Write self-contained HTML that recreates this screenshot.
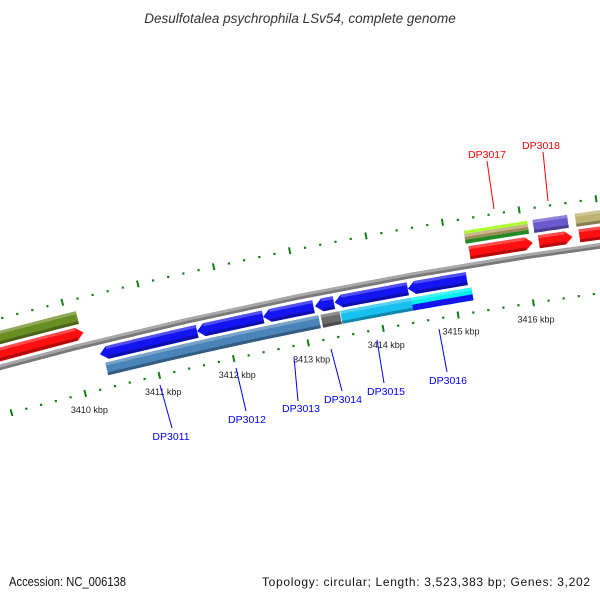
<!DOCTYPE html>
<html><head><meta charset="utf-8">
<style>
html,body{margin:0;padding:0;background:#fff;}
svg{display:block;font-family:"Liberation Sans",sans-serif;}
</style></head>
<body>
<svg id="map" width="600" height="600" viewBox="0 0 600 600" xmlns="http://www.w3.org/2000/svg">
<rect width="600" height="600" fill="#fff"/>
<text x="300" y="23" text-anchor="middle" font-size="13.5" font-style="italic" fill="#333">Desulfotalea psychrophila LSv54, complete genome</text>
<g id="ticks"></g>
<g id="backbone"></g>
<g id="genes"></g>
<g id="labels"></g>
<text x="9" y="586" font-size="12.5" fill="#111" textLength="117" lengthAdjust="spacingAndGlyphs">Accession: NC_006138</text>
<text x="262" y="586" font-size="12" fill="#111" textLength="328" lengthAdjust="spacing">Topology: circular; Length: 3,523,383 bp; Genes: 3,202</text>
</svg>
<script>
// ---- data (kbp) ----
const fwdRow1Starts = [3408.0, 3415.28, 3416.19, 3416.72];
const fwdRow1Ends   = [3410.17, 3416.11, 3416.63, 3417.6];
const fwdRow1Colors = ['#ff1010', '#ff1010', '#ff1010', '#ff1010'];
const fwdRow2Starts = [3408.0, 3416.15, 3416.7];
const fwdRow2Ends   = [3410.14, 3416.6, 3417.6];
const fwdRow2Colors = ['#6b8e23', '#6a5acd', '#bdb472'];
const revRow1Starts = [3410.31, 3411.61, 3412.49, 3413.18, 3413.44, 3414.41];
const revRow1Ends   = [3411.61, 3412.49, 3413.16, 3413.43, 3414.41, 3415.19];
const revRow2Starts = [3410.35, 3413.23, 3413.49, 3414.43];
const revRow2Ends   = [3413.2, 3413.48, 3414.43, 3415.23];
const revRow2Colors = ['#4a84b8', '#6a6a6a', '#18c0f0', '#00f0f0'];
const stackStart = 3415.25, stackEnd = 3416.08;
const tickKbp = [3410,3411,3412,3413,3414,3415,3416];
const tickLabels = ['3410 kbp','3411 kbp','3412 kbp','3413 kbp','3414 kbp','3415 kbp','3416 kbp'];
const geneNames = ['DP3011','DP3012','DP3013','DP3014','DP3015','DP3016','DP3017','DP3018'];
const geneLabelColors = ['#0000ff','#0000ff','#0000ff','#0000ff','#0000ff','#0000ff','#ff0000','#ff0000'];

// ---- geometry ----
const NS='http://www.w3.org/2000/svg';
const CX=1270, CY=5099.6, R0=4900, PHI0=-14.13, DEG_PER_KBP=0.9;
function ang(k){return (PHI0+(k-3410)*DEG_PER_KBP)*Math.PI/180;}
function pt(k,r){const a=ang(k);return [CX+r*Math.sin(a), CY-r*Math.cos(a)];}
function mk(tag,attrs,parent){const e=document.createElementNS(NS,tag);for(const k in attrs)e.setAttribute(k,attrs[k]);parent.appendChild(e);return e;}
function ps(arr){return arr.map(p=>p[0].toFixed(1)+','+p[1].toFixed(1)).join(' ');}
function band(s,e,r1,r2){const pts=[];const n=8;for(let i=0;i<=n;i++)pts.push(pt(s+(e-s)*i/n,r2));for(let i=n;i>=0;i--)pts.push(pt(s+(e-s)*i/n,r1));return pts;}
const H=0.095;
function arrowPts(s,e,r1,r2,dir){const rm=(r1+r2)/2;
 if(dir>0){const b=e-H;return [pt(s,r2),pt(b,r2),pt(e,rm),pt(b,r1),pt(s,r1)];}
 const b=s+H;return [pt(s,rm),pt(b,r2),pt(e,r2),pt(e,r1),pt(b,r1)];}
function shade(c,f){const n=parseInt(c.slice(1),16);let r=n>>16,g=(n>>8)&255,b=n&255;
 const m=x=>Math.max(0,Math.min(255,Math.round(f>1?x+(255-x)*(f-1):x*f)));return 'rgb('+m(r)+','+m(g)+','+m(b)+')';}

const gT=document.getElementById('ticks'),gB=document.getElementById('backbone'),gG=document.getElementById('genes'),gL=document.getElementById('labels');

// ticks
const RUP=4947, RLO=4853;
for(let k=3408;k<=3418.001;k+=0.2){
 const major=Math.abs(k-Math.round(k))<1e-6;
 [RUP,RLO].forEach(r=>{
  if(major){const a=pt(k,r-3.5),b=pt(k,r+3.5);
   const t=mk('line',{x1:a[0],y1:a[1],x2:b[0],y2:b[1],stroke:'#138013','stroke-width':2},gT);
   
   
  } else {const c=pt(k,r);
   const t=mk('rect',{x:c[0]-1,y:c[1]-1,width:2.2,height:2.2,fill:'#138013'},gT);
   
   
  }});
}
tickKbp.forEach((k,i)=>{const c=pt(k,4836);
 const t=mk('text',{x:c[0],y:c[1]+3,'text-anchor':'middle','font-size':'9',fill:'#222'},gT);
 t.textContent=tickLabels[i];
 
 
});

// backbone
{const p=band(3407,3419,R0-2.8,R0+2.8);
 const b=mk('polygon',{points:ps(p),fill:'#7a7a7a'},gB);
 
 
 const h=mk('polygon',{points:ps(band(3407,3419,R0,R0+2.8)),fill:'#a8a8a8'},gB);
 
 }

function drawGene(s,e,r1,r2,dir,color,name){
 const g=mk('g',{},gG);
 
 
 const p=dir===0?band(s,e,r1,r2):arrowPts(s,e,r1,r2,dir);
 mk('polygon',{points:ps(p),fill:color},g);
 if(dir===0) mk('polygon',{points:ps(band(s,e,r1,r1+3)),fill:shade(color,0.7)},g);
 else mk('polygon',{points:ps(band(dir>0?s:s+H,dir>0?e-H:e,r1,r1+3)),fill:shade(color,0.7)},g);
 mk('polygon',{points:ps(band(dir>0||dir===0?s:s+H,dir<0||dir===0?e:e-H,r2-3,r2)),fill:shade(color,1.25)},g);
}
fwdRow1Starts.forEach((s,i)=>drawGene(s,fwdRow1Ends[i],R0+6,R0+19,1,fwdRow1Colors[i],'forward-gene-'+(i+1)));
fwdRow2Starts.forEach((s,i)=>drawGene(s,fwdRow2Ends[i],R0+22,R0+35,0,fwdRow2Colors[i],'forward-feature-'+(i+1)));
{const cols=['#228b22','#a08a5a','#c8b888','#adff2f'];const rs=[22,26,29,32,35];
 cols.forEach((c,i)=>{const p=mk('polygon',{points:ps(band(stackStart,stackEnd,R0+rs[i],R0+rs[i+1])),fill:c},gG);
  
  });}
revRow1Starts.forEach((s,i)=>drawGene(s,revRow1Ends[i],R0-19,R0-6,-1,'#1414f0','reverse-gene-'+(i+1)));
revRow2Starts.forEach((s,i)=>drawGene(s,revRow2Ends[i],R0-35,R0-22,0,revRow2Colors[i],'reverse-feature-'+(i+1)));
{const p=mk('polygon',{points:ps(band(revRow2Starts[3],revRow2Ends[3],R0-35,R0-29)),fill:'#1414f0'},gG);
 
 }

const lblX=[171,247,301,343,386,448,487,541], lblY=[436,419,408,399,391,380,154,145];
const lnA=[[172,428,160,385],[246,411,236,368],[298,401,294,357],[342,391,331,349],[384,383,377,340],[447,372,439,329],[487,161,494,209],[543,152,548,201]];
geneNames.forEach((n,i)=>{const l=lnA[i];
 const ln=mk('line',{x1:l[0],y1:l[1],x2:l[2],y2:l[3],stroke:geneLabelColors[i],'stroke-width':1},gL);
 
 
 const t=mk('text',{x:lblX[i],y:lblY[i]+4,'text-anchor':'middle','font-size':'10.5',fill:geneLabelColors[i]},gL);
 t.textContent=n;
 
 
});
</script>
</body></html>
